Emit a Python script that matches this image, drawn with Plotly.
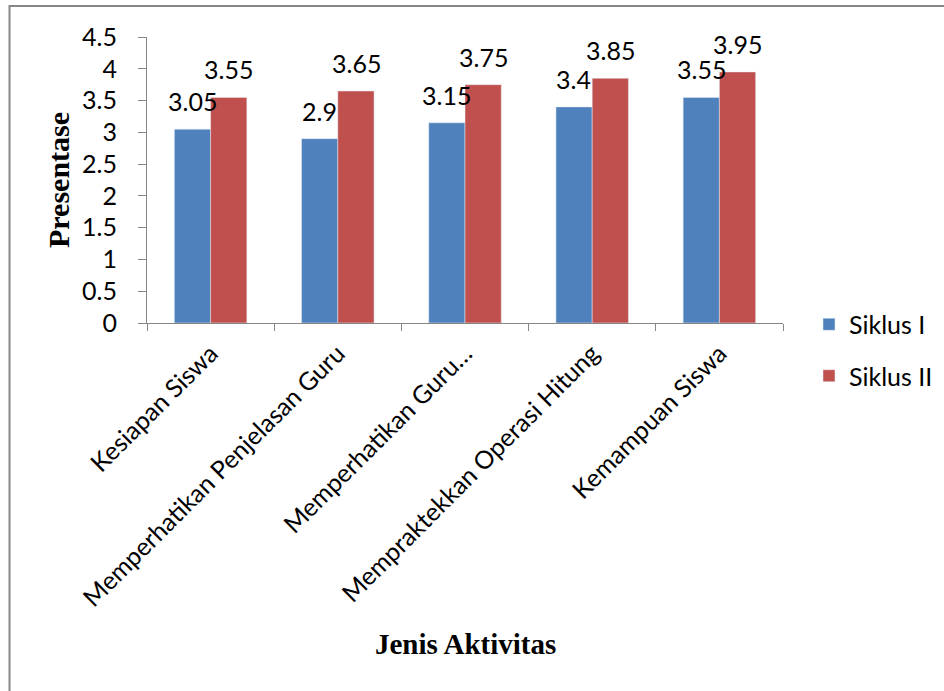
import plotly.graph_objects as go

categories = ["Kesiapan Siswa", "Memperhatikan Penjelasan Guru", "Memperhatikan Guru…",
              "Mempraktekkan Operasi Hitung", "Kemampuan Siswa"]
siklus1 = [3.05, 2.9, 3.15, 3.4, 3.55]
siklus2 = [3.55, 3.65, 3.75, 3.85, 3.95]
y_ticks = [0, 0.5, 1, 1.5, 2, 2.5, 3, 3.5, 4, 4.5]
y_tick_labels = ["0", "0.5", "1", "1.5", "2", "2.5", "3", "3.5", "4", "4.5"]

BLUE = "#4F81BD"
RED = "#C0504D"
AX = "#868686"
FONT = "Lato"
FS = 25

W, H = 944, 691
L, R, T, B = 147, 161, 37, 368
pw = W - L - R
ph = H - T - B

fig = go.Figure()
fig.add_trace(go.Bar(x=categories, y=siklus1, name="Siklus I", marker_color=BLUE,
                     legendgroup="a"))
fig.add_trace(go.Bar(x=categories, y=siklus2, name="Siklus II", marker_color=RED,
                     legendgroup="b"))

annotations = []
for vals, shift in ((siklus1, -18.3), (siklus2, 18.3)):
    for c, v in zip(categories, vals):
        annotations.append(dict(x=c, y=v, xref="x", yref="y", text=f"{v:g}",
                                showarrow=False, xshift=shift, yshift=11,
                                yanchor="bottom", xanchor="center",
                                font=dict(family=FONT, size=FS, color="black")))

annotations.append(dict(text="<b>Presentase</b>", xref="paper", yref="paper",
                        x=(58 - L) / pw, y=0.5, textangle=-90, showarrow=False,
                        xanchor="center", yanchor="middle",
                        font=dict(family="Liberation Serif", size=30, color="black")))
annotations.append(dict(text="<b>Jenis Aktivitas</b>", xref="paper", yref="paper",
                        x=0.5, y=(H - B - 644) / ph, showarrow=False,
                        xanchor="center", yanchor="middle",
                        font=dict(family="Liberation Serif", size=29, color="black")))

fig.update_layout(
    width=W, height=H,
    margin=dict(l=L, r=R, t=T, b=B, autoexpand=False),
    paper_bgcolor="white", plot_bgcolor="white",
    barmode="group", bargap=0.43, bargroupgap=0,
    font=dict(family=FONT, size=FS, color="black"),
    showlegend=True,
    legend=dict(x=(809 - L) / pw, xanchor="left", y=(H - B - 350) / ph, yanchor="middle",
                font=dict(family=FONT, size=FS, color="black"),
                tracegroupgap=16, bgcolor="rgba(0,0,0,0)"),
    annotations=annotations,
    shapes=[dict(type="rect", xref="paper", yref="paper",
                 x0=(9.5 - L) / pw, x1=(W + 20 - L) / pw,
                 y0=(H - B - (H + 20)) / ph, y1=(H - B - 6) / ph,
                 line=dict(color="#878787", width=2), fillcolor="rgba(0,0,0,0)",
                 layer="below")],
)

fig.update_xaxes(showline=True, linecolor=AX, linewidth=1, ticks="outside",
                 tickson="boundaries", ticklen=7, tickcolor=AX, tickangle=-45,
                 showgrid=False, zeroline=False, ticklabelstandoff=5,
                 tickfont=dict(family=FONT, size=FS, color="black"))
fig.update_yaxes(range=[0, 4.5], tickvals=y_ticks, ticktext=y_tick_labels,
                 showline=True, linecolor=AX, linewidth=1, ticks="outside",
                 ticklen=8, tickcolor=AX, showgrid=False, zeroline=False,
                 ticklabelstandoff=16,
                 tickfont=dict(family=FONT, size=FS, color="black"))

fig.write_html("out.html")
